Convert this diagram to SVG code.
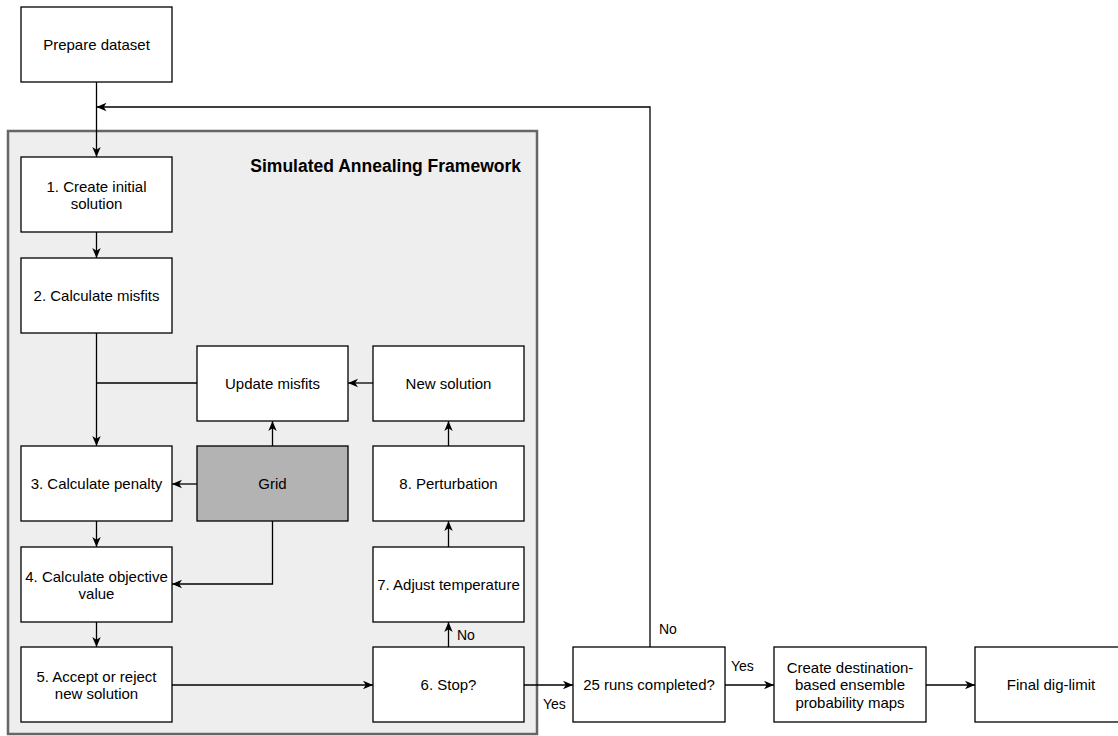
<svg xmlns="http://www.w3.org/2000/svg" width="1118" height="736" viewBox="0 0 1118 736">
  <defs>
    <marker id="arr" viewBox="0 0 10 10" markerWidth="10" markerHeight="10" refX="10" refY="5" orient="auto" markerUnits="userSpaceOnUse">
      <path d="M0,0.8 L10,5 L0,9.2 L2.8,5 Z" fill="#000"/>
    </marker>
    <style>
      .box { fill: #ffffff; stroke: #000000; stroke-width: 1.3; }
      .grid { fill: #b3b3b3; stroke: #000000; stroke-width: 1.3; }
      .frame { fill: #eeeeee; stroke: #666666; stroke-width: 2.5; }
      .t { font-family: "Liberation Sans", Arial, Helvetica, sans-serif; font-size: 15px; fill: #000; text-anchor: middle; dominant-baseline: central; }
      .lbl { font-family: "Liberation Sans", Arial, Helvetica, sans-serif; font-size: 14px; fill: #000; dominant-baseline: central; }
      .title { font-family: "Liberation Sans", Arial, Helvetica, sans-serif; font-size: 17.5px; font-weight: bold; fill: #000; text-anchor: end; }
      .c { fill: none; stroke: #000; stroke-width: 1.3; }
    </style>
  </defs>
  <rect width="1118" height="736" fill="#ffffff"/>

  <g id="framework">
    <rect class="frame" x="8" y="131" width="529" height="603"/>
    <text class="title" x="521" y="172">Simulated Annealing Framework</text>
  </g>

  <g id="connectors">
    <path class="c" d="M96.5,82 V157" marker-end="url(#arr)"/>
    <path class="c" d="M650,647 V107 H96.5" marker-end="url(#arr)"/>
    <path class="c" d="M96.5,232 V258" marker-end="url(#arr)"/>
    <path class="c" d="M96.5,333 V446" marker-end="url(#arr)"/>
    <path class="c" d="M197,383 H96.5"/>
    <path class="c" d="M373,383 H348" marker-end="url(#arr)"/>
    <path class="c" d="M272.5,446 V421" marker-end="url(#arr)"/>
    <path class="c" d="M197,484 H172" marker-end="url(#arr)"/>
    <path class="c" d="M272.5,521 V584 H172" marker-end="url(#arr)"/>
    <path class="c" d="M96.5,521 V547" marker-end="url(#arr)"/>
    <path class="c" d="M96.5,622 V647" marker-end="url(#arr)"/>
    <path class="c" d="M172,685 H373" marker-end="url(#arr)"/>
    <path class="c" d="M448.5,647 V622" marker-end="url(#arr)"/>
    <path class="c" d="M448.5,547 V521" marker-end="url(#arr)"/>
    <path class="c" d="M448.5,446 V421" marker-end="url(#arr)"/>
    <path class="c" d="M524,685 H573" marker-end="url(#arr)"/>
    <path class="c" d="M725,685 H774" marker-end="url(#arr)"/>
    <path class="c" d="M926,685 H975" marker-end="url(#arr)"/>
    <text class="lbl" x="659" y="629">No</text>
    <text class="lbl" x="457" y="635">No</text>
    <text class="lbl" x="543" y="704">Yes</text>
    <text class="lbl" x="731" y="666">Yes</text>
  </g>

  <g id="prepare">
    <rect class="box" x="21" y="7" width="151" height="75"/>
    <text class="t" x="96.5" y="44.5">Prepare dataset</text>
  </g>
  <g id="step1">
    <rect class="box" x="21" y="157" width="151" height="75"/>
    <text class="t" x="96.5" y="186">1. Create initial</text>
    <text class="t" x="96.5" y="203.5">solution</text>
  </g>
  <g id="step2">
    <rect class="box" x="21" y="258" width="151" height="75"/>
    <text class="t" x="96.5" y="295.5">2. Calculate misfits</text>
  </g>
  <g id="update">
    <rect class="box" x="197" y="346" width="151" height="75"/>
    <text class="t" x="272.5" y="383.5">Update misfits</text>
  </g>
  <g id="newsolution">
    <rect class="box" x="373" y="346" width="151" height="75"/>
    <text class="t" x="448.5" y="383.5">New solution</text>
  </g>
  <g id="step3">
    <rect class="box" x="21" y="446" width="151" height="75"/>
    <text class="t" x="96.5" y="483.5">3. Calculate penalty</text>
  </g>
  <g id="grid">
    <rect class="grid" x="197" y="446" width="151" height="75"/>
    <text class="t" x="272.5" y="483.5">Grid</text>
  </g>
  <g id="step8">
    <rect class="box" x="373" y="446" width="151" height="75"/>
    <text class="t" x="448.5" y="483.5">8. Perturbation</text>
  </g>
  <g id="step4">
    <rect class="box" x="21" y="547" width="151" height="75"/>
    <text class="t" x="96.5" y="576">4. Calculate objective</text>
    <text class="t" x="96.5" y="593.5">value</text>
  </g>
  <g id="step7">
    <rect class="box" x="373" y="547" width="151" height="75"/>
    <text class="t" x="448.5" y="584.5">7. Adjust temperature</text>
  </g>
  <g id="step5">
    <rect class="box" x="21" y="647" width="151" height="75"/>
    <text class="t" x="96.5" y="676">5. Accept or reject</text>
    <text class="t" x="96.5" y="693.5">new solution</text>
  </g>
  <g id="step6">
    <rect class="box" x="373" y="647" width="151" height="75"/>
    <text class="t" x="448.5" y="684.5">6. Stop?</text>
  </g>
  <g id="runs">
    <rect class="box" x="573" y="647" width="152" height="75"/>
    <text class="t" x="649" y="684.5">25 runs completed?</text>
  </g>
  <g id="ensemble">
    <rect class="box" x="774" y="647" width="152" height="75"/>
    <text class="t" x="850" y="667">Create destination-</text>
    <text class="t" x="850" y="684.5">based ensemble</text>
    <text class="t" x="850" y="702">probability maps</text>
  </g>
  <g id="final">
    <rect class="box" x="975" y="647" width="152" height="75"/>
    <text class="t" x="1051" y="684.5">Final dig-limit</text>
  </g>
</svg>
